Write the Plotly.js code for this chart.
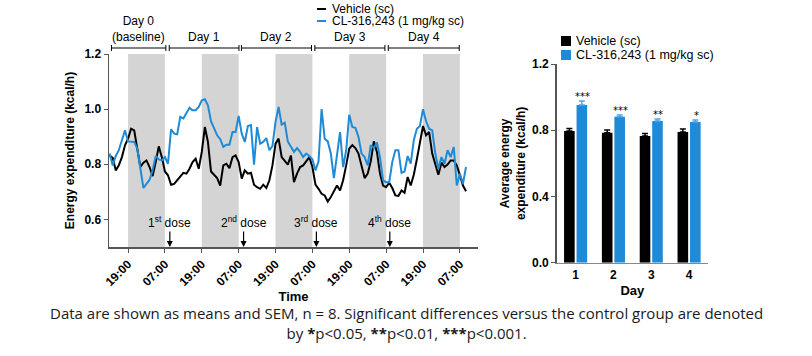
<!DOCTYPE html>
<html><head><meta charset="utf-8">
<script src="https://cdn.plot.ly/plotly-3.0.1.min.js"></script>
<style>html,body{margin:0;padding:0;background:#fff}#chart{width:812px;height:356px}</style>
</head><body><div id="chart"></div>
<script>
// time in hours relative to 19:00 on day 0
const hours = [-6,-5,-4,-3,-2,-1,0,1,2,3,4,5,6,7,8,9,10,11,12,13,14,15,16,17,18,19,20,21,22,23,24,25,26,27,28,29,30,31,32,33,34,35,36,37,38,39,40,41,42,43,44,45,46,47,48,49,50,51,52,53,54,55,56,57,58,59,60,61,62,63,64,65,66,67,68,69,70,71,72,73,74,75,76,77,78,79,80,81,82,83,84,85,86,87,88,89,90,91,92,93,94,95,96,97,98,99,100,101,102,103,104,105,106,107,108,109,110];
const vehicle = [0.832,0.823,0.778,0.796,0.826,0.869,0.893,0.929,0.923,0.857,0.790,0.806,0.814,0.790,0.757,0.808,0.865,0.826,0.774,0.760,0.726,0.729,0.742,0.757,0.769,0.766,0.784,0.808,0.820,0.784,0.845,0.935,0.881,0.774,0.760,0.750,0.723,0.796,0.802,0.786,0.826,0.832,0.808,0.748,0.778,0.766,0.769,0.726,0.717,0.711,0.726,0.714,0.742,0.796,0.875,0.893,0.826,0.811,0.799,0.832,0.735,0.766,0.790,0.796,0.811,0.826,0.790,0.726,0.711,0.693,0.687,0.665,0.681,0.702,0.723,0.705,0.742,0.796,0.857,0.869,0.859,0.839,0.796,0.750,0.766,0.811,0.883,0.845,0.766,0.723,0.717,0.733,0.714,0.687,0.685,0.705,0.697,0.754,0.723,0.762,0.818,0.875,0.939,0.905,0.917,0.839,0.802,0.762,0.806,0.790,0.799,0.814,0.814,0.796,0.760,0.723,0.702];
const cl316243 = [0.839,0.796,0.830,0.851,0.887,0.923,0.883,0.883,0.881,0.857,0.784,0.714,0.729,0.744,0.778,0.830,0.818,0.814,0.826,0.802,0.927,0.911,0.909,0.972,0.966,0.984,1.005,0.996,0.996,1.008,1.032,1.036,1.014,0.956,0.932,0.905,0.891,0.863,0.871,0.871,0.917,0.917,0.975,0.911,0.881,0.939,0.942,0.799,0.935,0.875,0.881,0.895,0.851,0.866,0.954,1.008,0.944,0.951,0.883,0.863,0.845,0.859,0.845,0.826,0.839,0.830,0.818,0.778,0.811,1.000,0.893,0.883,0.839,0.750,0.832,0.917,0.790,0.851,0.980,0.935,0.932,0.899,0.839,0.826,0.796,0.869,0.859,0.879,0.826,0.742,0.735,0.735,0.808,0.851,0.851,0.769,0.774,0.830,0.802,0.887,0.929,0.939,1.000,0.956,0.929,0.923,0.839,0.784,0.826,0.802,0.851,0.826,0.863,0.723,0.766,0.729,0.790];
const timeTickVals = [0,12,24,36,48,60,72,84,96,108];
const timeTickText = ['19:00','07:00','19:00','07:00','19:00','07:00','19:00','07:00','19:00','07:00'];
const darkPeriods = [[0,12],[24,36],[48,60],[72,84],[96,108]];
const dayLabels = ['Day 0<br>(baseline)','Day 1','Day 2','Day 3','Day 4'];
const dayBrackets = [[-5.4,12.3],[13.4,36.1],[36.9,59.7],[60.8,83.6],[84.7,107.8]];
const doseLabels = ['1<sup>st</sup> dose','2<sup>nd</sup> dose','3<sup>rd</sup> dose','4<sup>th</sup> dose'];
const doseTimes = [13.6,37.6,61.3,85.2];

const barDays = [1,2,3,4];
const barVehicle = [0.795,0.785,0.765,0.789];
const barVehicleSem = [0.016,0.016,0.016,0.018];
const barCL = [0.952,0.882,0.856,0.850];
const barCLSem = [0.024,0.010,0.012,0.012];
const sigLabels = ['***','***','**','*'];

const BLUE = '#1f8bd6';
const AX = '#555';
const FONT = 'Liberation Sans, Arial, sans-serif';

const traces = [
  {x: hours, y: vehicle, type:'scatter', mode:'lines', name:'Vehicle (sc)', line:{color:'#000', width:2}, xaxis:'x', yaxis:'y', showlegend:false},
  {x: hours, y: cl316243, type:'scatter', mode:'lines', name:'CL-316,243 (1 mg/kg sc)', line:{color:BLUE, width:2}, xaxis:'x', yaxis:'y', showlegend:false},
  {x: barDays, y: barVehicle, type:'bar', name:'Vehicle (sc)', marker:{color:'#000'}, xaxis:'x2', yaxis:'y2', showlegend:false,
   error_y:{type:'data', array:barVehicleSem, symmetric:false, arrayminus:[0,0,0,0], color:'#000', thickness:1.5, width:3}},
  {x: barDays, y: barCL, type:'bar', name:'CL-316,243 (1 mg/kg sc)', marker:{color:BLUE}, xaxis:'x2', yaxis:'y2', showlegend:false,
   error_y:{type:'data', array:barCLSem, symmetric:false, arrayminus:[0,0,0,0], color:'#4aa8ea', thickness:1.5, width:3}}
];

const shapes = [];
const annotations = [];
darkPeriods.forEach(p => shapes.push({type:'rect', xref:'x', yref:'y', x0:p[0], x1:p[1], y0:0.5, y1:1.2, fillcolor:'#d4d4d4', line:{width:0}, layer:'below'}));
const bY = (356-48)/356, bT = 3/356;
dayBrackets.forEach((b,i) => {
  shapes.push({type:'line', xref:'x', yref:'paper', x0:b[0], x1:b[1], y0:bY, y1:bY, line:{color:'#000', width:1}});
  shapes.push({type:'line', xref:'x', yref:'paper', x0:b[0], x1:b[0], y0:bY-bT, y1:bY+bT, line:{color:'#000', width:1}});
  shapes.push({type:'line', xref:'x', yref:'paper', x0:b[1], x1:b[1], y0:bY-bT, y1:bY+bT, line:{color:'#000', width:1}});
  annotations.push({xref:'x', yref:'paper', x:(b[0]+b[1])/2, y:bY+0.006, yanchor:'bottom', text:dayLabels[i], showarrow:false, font:{family:FONT, size:12, color:'#000'}});
});
doseTimes.forEach((t,i) => {
  annotations.push({xref:'x', yref:'y', x:t, y:0.5, ax:0, ay:-25, text:doseLabels[i], showarrow:true, arrowhead:2, arrowsize:1, arrowwidth:1.2, arrowcolor:'#000', font:{family:FONT, size:12, color:'#000'}});
});
// left legend
[['Vehicle (sc)','#000',9],['CL-316,243 (1 mg/kg sc)',BLUE,21]].forEach(l => {
  const yp = (356-l[2])/356;
  shapes.push({type:'line', xref:'paper', yref:'paper', x0:317/812, x1:326/812, y0:yp, y1:yp, line:{color:l[1], width:2}});
  annotations.push({xref:'paper', yref:'paper', x:330/812, y:yp, xanchor:'left', yanchor:'middle', text:l[0], showarrow:false, font:{family:FONT, size:12, color:'#000'}});
});
// right legend
[['Vehicle (sc)','#000',41],['CL-316,243 (1 mg/kg sc)',BLUE,55]].forEach(l => {
  shapes.push({type:'rect', xref:'paper', yref:'paper', x0:561/812, x1:571/812, y0:(356-l[2]-5)/356, y1:(356-l[2]+5)/356, fillcolor:l[1], line:{width:0}});
  annotations.push({xref:'paper', yref:'paper', x:574/812, y:(356-l[2])/356, xanchor:'left', yanchor:'middle', text:l[0], showarrow:false, font:{family:FONT, size:12.5, color:'#000'}});
});
barDays.forEach((d,i) => {
  annotations.push({xref:'x2', yref:'y2', x:d, xshift:7, y:barCL[i]+barCLSem[i], yanchor:'bottom', yshift:-3, text:sigLabels[i], showarrow:false, font:{family:'DejaVu Sans, sans-serif', size:10, color:'#000'}});
});
// caption
annotations.push({xref:'paper', yref:'paper', x:0.5, y:(356-323)/356, yanchor:'middle', align:'center',
  text:'Data are shown as means and SEM, n = 8. Significant differences versus the control group are denoted<br>by <b>*</b>p<0.05, <b>**</b>p<0.01, <b>***</b>p<0.001.',
  showarrow:false, font:{family:'Open Sans, sans-serif', size:15, color:'#1a1a1a'}});

const layout = {
  width:812, height:356, margin:{l:0,r:0,t:0,b:0},
  paper_bgcolor:'#fff', plot_bgcolor:'rgba(0,0,0,0)',
  font:{family:FONT, color:'#000'},
  showlegend:false,
  barmode:'group', bargap:0.34, bargroupgap:0.15,
  xaxis:{domain:[109/812, 478/812], range:[-6.2,113.9], tickvals:timeTickVals, ticktext:timeTickText, tickangle:-45,
    showgrid:false, zeroline:false, showline:true, linecolor:AX, linewidth:1.5, ticks:'outside', ticklen:4, tickcolor:AX,
    tickfont:{family:FONT, size:12, weight:'bold', color:'#000'},
    title:{text:'<b>Time</b>', font:{family:FONT, size:13, color:'#000'}, standoff:0}},
  yaxis:{domain:[(356-247)/356, (356-54)/356], range:[0.5,1.2], tickvals:[0.6,0.8,1.0,1.2], ticktext:['0.6','0.8','1.0','1.2'],
    showgrid:false, zeroline:false, showline:true, linecolor:AX, linewidth:1.5, ticks:'outside', ticklen:4, tickcolor:AX,
    tickfont:{family:FONT, size:12, weight:'bold', color:'#000'},
    title:{text:'<b>Energy expenditure (kcal/h)</b>', font:{family:FONT, size:12, color:'#000'}, standoff:7}},
  xaxis2:{domain:[556.7/812, 708/812], range:[0.5,4.5], tickvals:barDays, ticktext:['1','2','3','4'], anchor:'y2',
    showgrid:false, zeroline:false, showline:true, linecolor:'#888', linewidth:1.5, ticks:'',
    tickfont:{family:FONT, size:12, weight:'bold', color:'#000'},
    title:{text:'<b>Day</b>', font:{family:FONT, size:13, color:'#000'}, standoff:5}},
  yaxis2:{domain:[(356-262.7)/356, (356-64)/356], range:[0,1.2], tickvals:[0,0.4,0.8,1.2], ticktext:['0.0','0.4','0.8','1.2'], anchor:'x2',
    showgrid:false, zeroline:false, showline:true, linecolor:AX, linewidth:1.5, ticks:'outside', ticklen:4, tickcolor:AX,
    tickfont:{family:FONT, size:12, weight:'bold', color:'#000'},
    title:{text:'<b>Average energy<br>expenditure (kcal/h)</b>', font:{family:FONT, size:12, color:'#000'}, standoff:4}},
  shapes:shapes, annotations:annotations
};
Plotly.newPlot('chart', traces, layout, {displayModeBar:false, staticPlot:true});
</script></body></html>
